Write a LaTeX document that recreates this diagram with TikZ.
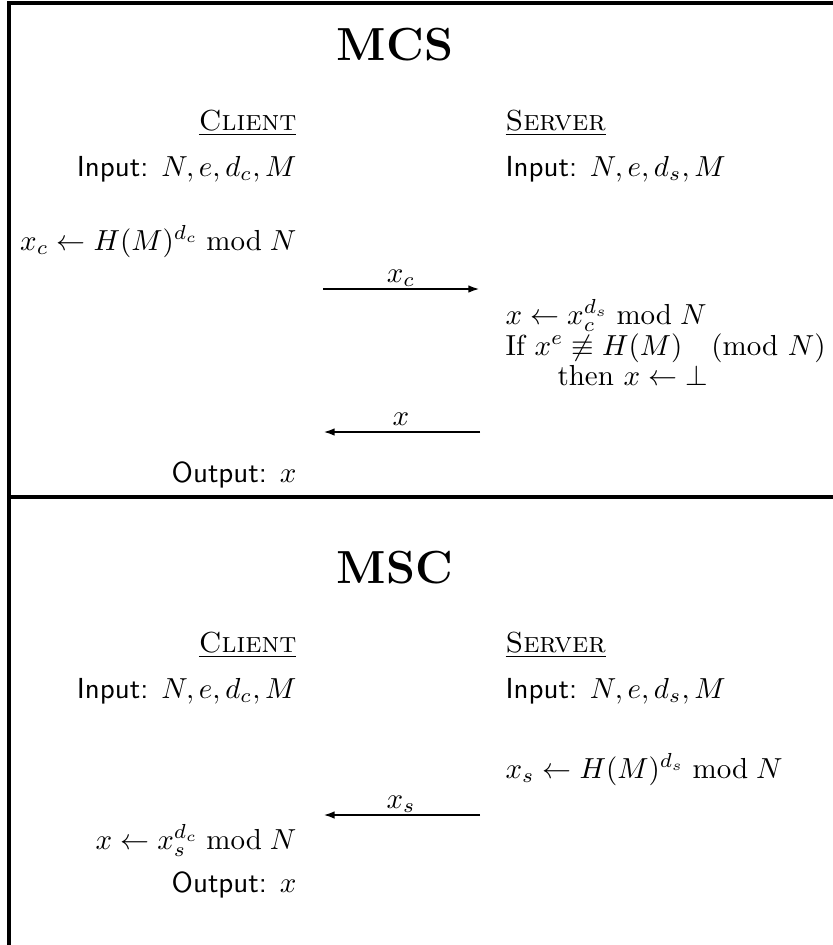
\documentclass[tikz,border=0pt]{standalone}
\usetikzlibrary{arrows.meta}
\begin{document}
\begin{tikzpicture}[x=0.345pt,y=-0.345pt,
  lt/.style={anchor=base east,inner sep=0pt},
  rt/.style={anchor=base west,inner sep=0pt},
  ttl/.style={anchor=base,inner sep=0pt,font=\fontsize{16}{19}\selectfont\bfseries},
  frame/.style={line width=1.1pt},
  msg/.style={line width=0.8pt,-{Latex[length=4pt,width=2.6pt]}},
  lbl/.style={anchor=base,inner sep=0pt}]
\useasboundingbox (0,0) rectangle (833,945);
% frame
\coordinate (fbl) at (9,945);
\coordinate (ftl) at (9,3);
\coordinate (ftr) at (833,3);
\coordinate (ml) at (9,497);
\coordinate (mr) at (833,497);
\draw[frame] (fbl) -- (ftl) -- (ftr);
\draw[frame] (ml) -- (mr);
% ---------- MCS ----------
\node[ttl] (t1) at (395,60) {MCS};
\node[lt] (c1) at (297,130) {\underline{\textsc{Client}}};
\node[rt] (s1) at (505,130) {\underline{\textsc{Server}}};
\node[lt] (ci1) at (297,176) {\textsf{Input:} $N, e, d_c, M$};
\node[rt] (si1) at (505,176) {\textsf{Input:} $N, e, d_s, M$};
\node[lt] (cx1) at (297,250) {$x_c \leftarrow H(M)^{d_c} \bmod N$};
\coordinate (a1s) at (323,289);
\coordinate (a1e) at (480,289);
\draw[msg] (a1s) -- (a1e);
\node[lbl] (l1) at (401,282) {$x_c$};
\node[rt] (sx1) at (505,324) {$x \leftarrow x_c^{d_s} \bmod N$};
\node[rt] (sif1) at (505,355) {If $x^e \not\equiv H(M) \pmod N$};
\node[rt] (sth1) at (557,385) {then $x \leftarrow \bot$};
\coordinate (a2s) at (480,432);
\coordinate (a2e) at (323,432);
\draw[msg] (a2s) -- (a2e);
\node[lbl] (l2) at (401,425) {$x$};
\node[lt] (co1) at (297,482) {\textsf{Output:} $x$};
% ---------- MSC ----------
\node[ttl] (t2) at (395,583) {MSC};
\node[lt] (c2) at (297,652) {\underline{\textsc{Client}}};
\node[rt] (s2) at (505,652) {\underline{\textsc{Server}}};
\node[lt] (ci2) at (297,698) {\textsf{Input:} $N, e, d_c, M$};
\node[rt] (si2) at (505,698) {\textsf{Input:} $N, e, d_s, M$};
\node[rt] (sx2) at (505,778) {$x_s \leftarrow H(M)^{d_s} \bmod N$};
\coordinate (a3s) at (480,815);
\coordinate (a3e) at (323,815);
\draw[msg] (a3s) -- (a3e);
\node[lbl] (l3) at (401,808) {$x_s$};
\node[lt] (cx2) at (297,849) {$x \leftarrow x_s^{d_c} \bmod N$};
\node[lt] (co2) at (297,892) {\textsf{Output:} $x$};
\end{tikzpicture}
\end{document}
